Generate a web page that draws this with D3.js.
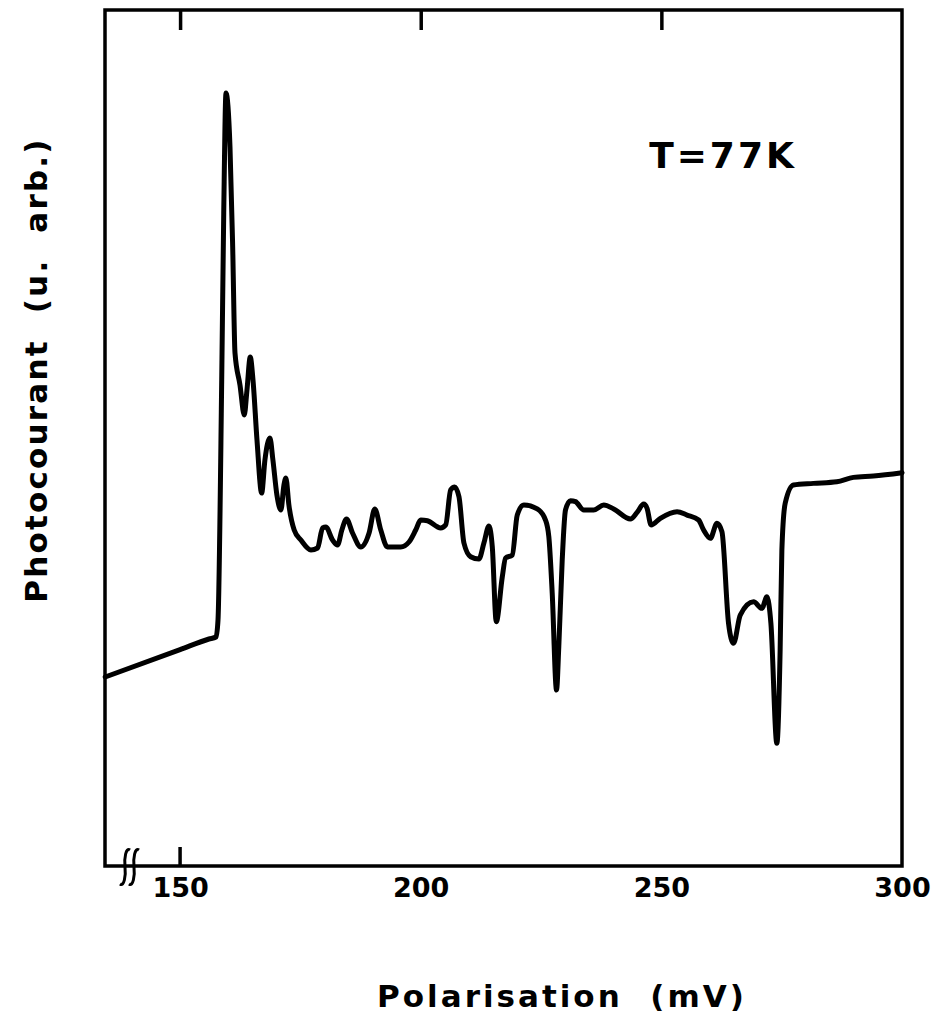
<!DOCTYPE html>
<html>
<head>
<meta charset="utf-8">
<script src="https://cdn.jsdelivr.net/npm/d3@7"></script>
<style>
  html, body { margin: 0; padding: 0; background: #fff; }
  svg { display: block; }
  text { font-family: "DejaVu Sans", "Liberation Sans", Arial, sans-serif; font-weight: bold; fill: #000; }
</style>
</head>
<body>
<svg id="chart" width="943" height="1027"></svg>
<script>
// Bias voltage (mV) of each sample along the trace
const biasMv = [
  134.44, 150.00, 156.00, 157.47, 157.88, 158.65, 159.07, 159.54, 160.37, 160.93, 161.41, 162.45,
  163.34, 163.90, 164.58, 165.15, 165.98, 166.95, 167.63, 168.67, 169.29, 170.12,
  170.95, 171.58, 171.99, 172.61, 173.71, 175.10, 177.18, 178.57, 179.61, 180.29,
  181.68, 182.72, 183.61, 184.58, 185.83, 187.55, 189.27, 190.46, 191.70, 193.09,
  195.85, 197.57, 198.96, 200.00, 201.39, 204.15, 205.19, 206.22, 207.05, 207.95,
  208.98, 210.37, 212.09, 213.13, 214.17, 214.87, 215.70, 216.95, 217.63, 219.02,
  220.06, 221.43, 224.21, 225.93, 226.62, 227.32, 228.22, 228.69, 229.40, 230.08,
  231.12, 232.16, 233.88, 235.95, 238.03, 240.10, 243.57, 244.96, 246.33, 247.03,
  247.86, 249.79, 253.26, 255.33, 257.74, 258.78, 260.17, 261.56, 262.59, 263.96,
  265.00, 266.39, 269.15, 270.89, 271.93, 272.76, 274.00, 274.68, 275.04, 275.73,
  277.45, 281.60, 286.45, 289.90, 294.05, 300.00
];

// Photocurrent (arbitrary units) at each bias value
const photocurrent = [
  2.208, 2.528, 2.652, 2.675, 2.874, 5.678, 7.629, 9.030, 8.400, 7.231, 5.993, 5.619,
  5.269, 5.561, 5.946, 5.678, 4.977, 4.357, 4.743, 5.000, 4.743, 4.334,
  4.159, 4.451, 4.533, 4.217, 3.925, 3.808, 3.692, 3.715, 3.949, 3.960,
  3.808, 3.750, 3.925, 4.054, 3.890, 3.727, 3.890, 4.171, 3.925, 3.727,
  3.727, 3.785, 3.925, 4.042, 4.033, 3.949, 3.984, 4.393, 4.428, 4.314,
  3.773, 3.613, 3.586, 3.773, 3.972, 3.730, 2.853, 3.379, 3.598, 3.633,
  4.100, 4.217, 4.171, 4.042, 3.847, 3.189, 2.056, 2.562, 3.575, 4.159,
  4.268, 4.256, 4.159, 4.159, 4.217, 4.171, 4.054, 4.131, 4.229, 4.178,
  3.984, 4.062, 4.139, 4.100, 4.042, 3.925, 3.828, 4.003, 3.905, 2.835,
  2.601, 2.932, 3.087, 3.010, 3.146, 2.835, 1.433, 2.523, 3.692, 4.237,
  4.451, 4.470, 4.489, 4.540, 4.556, 4.595
];

const xTicks = [150, 200, 250, 300];
const xTickLabels = ["150", "200", "250", "300"];
const xDomain = [134.4, 300];
const yDomain = [0, 10];

const xLabel = "Polarisation\u00A0\u00A0(mV)";
const yLabel = "Photocourant\u00A0\u00A0(u.\u00A0\u00A0arb.)";
const tempLabel = "T=77K";

const svg = d3.select("#chart");
const frame = { left: 105, right: 902, top: 10, bottom: 866 };

const x = d3.scaleLinear().domain(xDomain).range([frame.left, frame.right]);
const y = d3.scaleLinear().domain(yDomain).range([frame.bottom, frame.top]);

const points = biasMv.map((v, i) => [v, photocurrent[i]]);

// Curve
const line = d3.line()
  .x(d => x(d[0]))
  .y(d => y(d[1]))
  .curve(d3.curveMonotoneX);

svg.append("path")
  .datum(points)
  .attr("d", line)
  .attr("fill", "none")
  .attr("stroke", "#000")
  .attr("stroke-width", 5)
  .attr("stroke-linejoin", "round")
  .attr("stroke-linecap", "round");

// Frame
svg.append("rect")
  .attr("x", frame.left).attr("y", frame.top)
  .attr("width", frame.right - frame.left)
  .attr("height", frame.bottom - frame.top)
  .attr("fill", "none")
  .attr("stroke", "#000")
  .attr("stroke-width", 3.5);

// Inward ticks on the top edge
const topAxis = d3.axisTop(x)
  .tickValues(xTicks.filter(t => t < xDomain[1]))
  .tickSize(-20)
  .tickFormat("");
const gTop = svg.append("g")
  .attr("transform", `translate(0,${frame.top})`)
  .call(topAxis);
gTop.select(".domain").remove();
gTop.selectAll(".tick line").attr("stroke", "#000").attr("stroke-width", 3.5);

// Bottom labels, with a single inward tick at the first value
const bottomAxis = d3.axisBottom(x)
  .tickValues(xTicks)
  .tickSize(0)
  .tickPadding(12)
  .tickFormat((d, i) => xTickLabels[i]);
const gBottom = svg.append("g")
  .attr("transform", `translate(0,${frame.bottom})`)
  .call(bottomAxis);
gBottom.select(".domain").remove();
gBottom.selectAll(".tick text")
  .attr("font-size", 27)
  .attr("font-family", "'DejaVu Sans', sans-serif")
  .attr("font-weight", "bold")
  .attr("fill", "#000");

svg.append("line")
  .attr("x1", x(xTicks[0])).attr("x2", x(xTicks[0]))
  .attr("y1", frame.bottom).attr("y2", frame.bottom - 19)
  .attr("stroke", "#000").attr("stroke-width", 3.5);

// Axis break marks
const breakX = [125, 134];
breakX.forEach(bx => {
  const bpath = d3.path();
  const yc = frame.bottom + 1;
  bpath.moveTo(bx + 5, yc - 17);
  bpath.bezierCurveTo(bx + 1, yc - 20, bx - 1, yc - 9, bx, yc);
  bpath.bezierCurveTo(bx + 1, yc + 9, bx - 1, yc + 20, bx - 5, yc + 17);
  svg.append("path")
    .attr("d", bpath.toString())
    .attr("fill", "none")
    .attr("stroke", "#000")
    .attr("stroke-width", 3);
});

// Axis titles
svg.append("text")
  .attr("x", 562).attr("y", 1007)
  .attr("text-anchor", "middle")
  .attr("font-size", 31)
  .attr("letter-spacing", 3)
  .text(xLabel);

svg.append("text")
  .attr("transform", "translate(47,370) rotate(-90)")
  .attr("text-anchor", "middle")
  .attr("font-size", 31)
  .attr("letter-spacing", 2.2)
  .text(yLabel);

svg.append("text")
  .attr("x", 723).attr("y", 168)
  .attr("text-anchor", "middle")
  .attr("font-size", 36)
  .attr("letter-spacing", 3)
  .text(tempLabel);
</script>
</body>
</html>
